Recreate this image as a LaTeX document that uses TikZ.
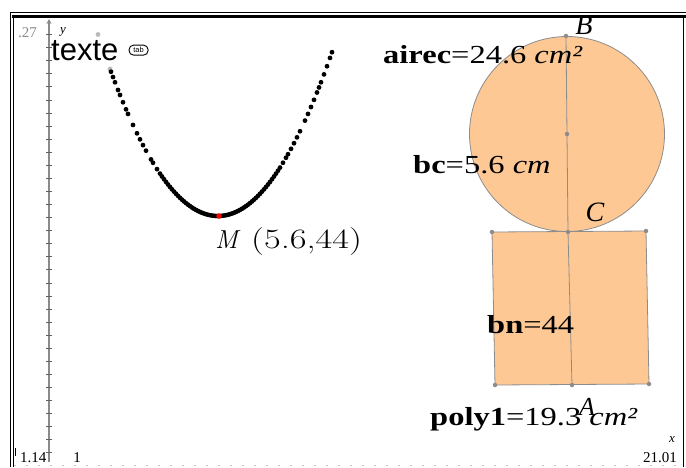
\documentclass[tikz,border=0pt]{standalone}
\usepackage{fontspec}
\setmainfont{Liberation Serif}
\newfontfamily\measurefont[FakeStretch=1.25]{Liberation Serif}
\newfontfamily\appsans{Liberation Sans}
\newfontfamily\cmfont{Latin Modern Roman}
\newfontfamily\cmwide[FakeStretch=1.3]{Latin Modern Roman}
\usetikzlibrary{positioning,arrows.meta}
\definecolor{shapefill}{HTML}{FDC894}
\definecolor{shapeedge}{HTML}{8C8C8C}
\definecolor{axisgray}{HTML}{8A8A8A}

\begin{document}
\begin{tikzpicture}[x=1pt, y=-1pt,
    measure/.style={anchor=base west, inner sep=0pt, font=\measurefont\fontsize{26}{28}\selectfont},
    vertex/.style={inner sep=0pt, font=\fontsize{28}{30}\selectfont\itshape},
    ticklabel/.style={anchor=base, inner sep=0pt, font=\fontsize{15}{17}\selectfont},
    axisname/.style={inner sep=0pt, font=\fontsize{13}{14}\selectfont\itshape},
    geopt/.style={circle, fill=shapeedge, inner sep=0pt, minimum size=4.5pt},
    edge/.style={draw=shapeedge, line width=0.8pt}
]
\useasboundingbox (0,0) rectangle (686,467);

% window frame
\draw[line width=0.8pt] (10,12) -- (686,12);
\draw[line width=3pt] (12,16.5) -- (686,16.5);
\draw[line width=0.8pt] (10,12) -- (10,467);
\draw[line width=0.8pt] (13,18) -- (13,467);
\draw[line width=0.8pt] (683,18) -- (683,467);

% axes
\draw[axisgray, line width=1.8pt, -{Stealth[length=5pt,width=5pt]}] (49,462) -- (49,19);
\foreach \k in {0,...,32}
  \draw[axisgray!70!black, line width=0.6pt] (46,{34.5+13.07*\k}) -- (52,{34.5+13.07*\k});
\draw[axisgray!50, line width=1pt, dash pattern=on 2pt off 10pt] (14,465.5) -- (683,465.5);

\node[ticklabel, text=axisgray, anchor=base east] (ymax) at (37,37) {.27};
\node[axisname] (ylab) at (63,32) {y};
\node[ticklabel, anchor=base west] (xmin) at (20,462) {1.14};
\draw[line width=0.7pt] (15.5,448) -- (15.5,456);
\node[ticklabel] (xone) at (77,462) {1};
\node[ticklabel, anchor=base east] (xmax) at (677,462) {21.01};
\node[axisname] (xlab) at (672,440) {x};

% text widget
\node[anchor=base west, inner sep=0pt, font=\appsans\fontsize{31}{33}\selectfont] (texte) at (51,60) {texte};
\node[draw, rounded corners=4.5pt, line width=0.9pt, inner sep=0pt, minimum width=19pt, minimum height=10pt,
      font=\appsans\fontsize{7.5}{7.5}\selectfont, right=10pt of texte] (tab) {tab};

% locus of M
\foreach \px in {98,110}
  \fill[gray!55] (\px,{216-0.0126*(\px-218)^2}) circle (2.4pt);
\foreach \px in {111,113,115,118,120,123,126,128,133,137,140,143,146,151,153,157,160,162,164,166,...,280,283,286,288,291,294,297,300,305,308,311,314,317,319,321,324,327,330,332}
  \fill (\px,{216-0.0126*(\px-218)^2}) circle (2.4pt);
\node[circle, fill=red, inner sep=0pt, minimum size=5.5pt] (ptM) at (219,216) {};
\node[anchor=base west, inner sep=0pt, font=\cmfont\fontsize{26}{28}\selectfont\itshape] (mlab) at (215,248) {M};
\node[anchor=base west, inner sep=0pt, font=\cmwide\fontsize{28}{30}\selectfont] (mcoord) at (251,248) {(5.6,44)};

% rectangle and disc
\coordinate (rtl) at (492,232);
\coordinate (rtr) at (646,231);
\coordinate (rbr) at (649,384);
\coordinate (rbl) at (495,385);
\draw[edge, fill=shapefill] (rtl) -- (rtr) -- (rbr) -- (rbl) -- cycle;
\draw[edge, fill=shapefill] (567,134) circle (97.5pt);

\node[geopt] (ptB) at (566,36) {};
\node[geopt] (ptO) at (567,134) {};
\node[geopt] (ptC) at (568,232) {};
\node[geopt] (ptA) at (572,385) {};
\draw[edge] (ptB.center) -- (ptO.center) -- (ptC.center) -- (ptA.center);
\foreach \c in {rtl,rtr,rbr,rbl}
  \node[geopt] at (\c) {};

\node[vertex] (labB) at (584,25) {B};
\node[vertex] (labC) at (595,212) {C};
\node[vertex, font=\fontsize{26}{28}\selectfont\itshape] (labA) at (587,407) {A};

% measures
\node[measure] (airec) at (383,63) {\textbf{airec}=24.6 \textit{cm²}};
\node[measure] (bc) at (413,173) {\textbf{bc}=5.6 \textit{cm}};
\node[measure] (bn) at (487,333) {\textbf{bn}=44};
\node[measure] (poly) at (430,425) {\textbf{poly1}=19.3 \textit{cm²}};

\end{tikzpicture}
\end{document}
